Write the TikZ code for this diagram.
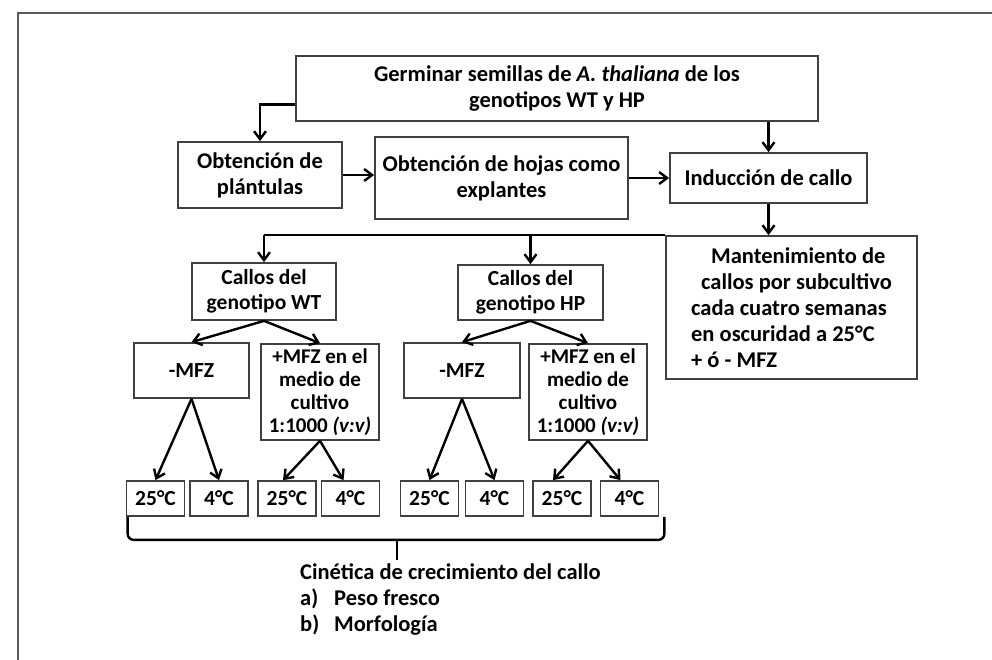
\documentclass[tikz,border=0pt]{standalone}
\usepackage{fontspec}
\setmainfont{Carlito}
\usetikzlibrary{arrows.meta,positioning,calc}

\begin{document}
\begin{tikzpicture}[x=1pt,y=-1pt,->,>={Straight Barb[length=8pt,width=12pt]},line width=2.4pt,
  every node/.style={font=\fontsize{22.5}{26}\selectfont\bfseries},
  box/.style={draw=black!75,line width=1.7pt,align=center,inner sep=0pt},
  smallbox/.style={box,font=\fontsize{21.5}{25}\selectfont\bfseries},
  mfzbox/.style={box,minimum width=118pt,minimum height=96pt,font=\fontsize{21}{23}\selectfont\bfseries},
  tbox/.style={box,minimum width=58pt,minimum height=35pt}]
\useasboundingbox (0,0) rectangle (992,660);
\draw[-,line width=1.5pt,black!65] (992,13) -- (18,13) -- (18,660);
%
% upper row
  \node[box,minimum width=522pt,minimum height=65pt] (germ) at (557,88.5) {Germinar semillas de \textit{A. thaliana} de los\\ genotipos WT y HP};
  \node[box,minimum width=164pt,minimum height=66pt] (plant) at (260,175) {Obtención de\\ plántulas};
  \node[box,minimum width=253pt,minimum height=82pt] (hojas) at (501.5,178) {Obtención de hojas como\\ explantes};
  \node[box,minimum width=197pt,minimum height=50pt] (induc) at (768.5,178) {Inducción de callo};
  \node[box,minimum width=251pt,minimum height=143pt,align=left] (mant) at (791.5,307.5) {\hspace*{20pt}Mantenimiento de\\ \hspace*{10pt}callos por subcultivo\\ cada cuatro semanas\\ en oscuridad a 25°C\\ + ó - MFZ};
%
% genotypes and treatments
  \node[smallbox,minimum width=144pt,minimum height=57pt] (cwt) at (264,291.5) {Callos del\\ genotipo WT};
  \node[smallbox,minimum width=145pt,minimum height=55pt] (chp) at (530.5,292.5) {Callos del\\ genotipo HP};
  \node[smallbox,minimum width=115pt,minimum height=55pt] (mwt) at (191.5,370.5) {-MFZ};
  \node[mfzbox] (pwt) at (320,392) {+MFZ en el\\ medio de\\ cultivo\\ 1:1000 \textit{(v:v)}};
  \node[smallbox,minimum width=116pt,minimum height=55pt] (mhp) at (462,370.5) {-MFZ};
  \node[mfzbox] (php) at (588,392) {+MFZ en el\\ medio de\\ cultivo\\ 1:1000 \textit{(v:v)}};
%
% temperatures
  \foreach \i/\x/\t in {1/155.5/25,2/219/4,3/287/25,4/350.5/4,5/429.5/25,6/494.5/4,7/562/25,8/629.5/4}
    \node[tbox,smallbox] (t\i) at (\x,498.5) {\t°C};
%
  \draw ([yshift=-16pt]germ.west) -| (plant.north);
  \draw (germ.south -| induc.north) -- (induc.north);
  \draw (plant.east) -- (plant.east -| hojas.west);
  \draw (hojas.east) -- (hojas.east -| induc.west);
  \draw (induc.south) -- (induc.south |- mant.north);
  \draw[-] (mant.north west) -- (mant.north west -| cwt.north);
  \draw (mant.north west -| cwt.north) -- (cwt.north);
  \draw (mant.north west -| chp.north) -- (chp.north);
  \draw (cwt.south) -- (mwt.north);
  \draw (cwt.south) -- (pwt.north);
  \draw (chp.south) -- (mhp.north);
  \draw (chp.south) -- (php.north);
  \draw (mwt.south) -- (t1.north);
  \draw (mwt.south) -- (t2.north);
  \draw (pwt.south) -- ([xshift=-4pt]t3.north);
  \draw (pwt.south) -- ([xshift=-7pt]t4.north);
  \draw (mhp.south) -- (t5.north);
  \draw (mhp.south) -- (t6.north);
  \draw (php.south) -- ([xshift=-9pt]t7.north);
  \draw (php.south) -- ([xshift=-9pt]t8.north);
%
% brace and result
  \draw[-,rounded corners=6pt] ([xshift=2pt]t1.south west) -- ([xshift=2pt,yshift=-23pt]t1.south west) -- ([xshift=5pt,yshift=-23pt]t8.south east) -- ([xshift=5pt]t8.south east);
  \coordinate (mid) at (397,539);
  \draw[-] (mid) -- ++(0,21);
  \node[anchor=north west,align=left,inner sep=0pt] (kin) at (299,562) {Cinética de crecimiento del callo\\ \makebox[34pt][l]{a)}Peso fresco\\ \makebox[34pt][l]{b)}Morfología};
\end{tikzpicture}
\end{document}
